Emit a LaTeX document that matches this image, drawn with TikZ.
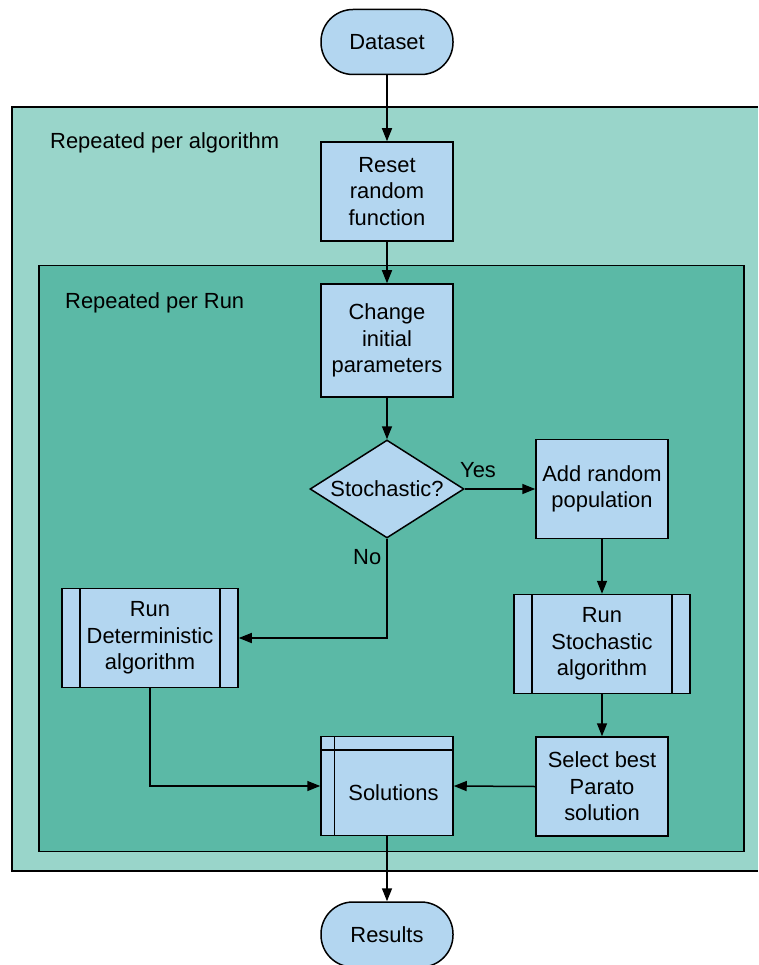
\documentclass[tikz,border=0pt]{standalone}
\usepackage{fontspec}
\setmainfont{Liberation Sans}
\usetikzlibrary{arrows.meta,shapes.geometric}
\definecolor{nodefill}{HTML}{B3D6F0}
\definecolor{outerfill}{HTML}{99D5CA}
\definecolor{innerfill}{HTML}{5BB9A6}

\begin{document}
\begin{tikzpicture}[x=1pt,y=-1pt,
  every node/.style={font=\fontsize{21.9}{26.5}\selectfont},
  box/.style={draw=black, line width=1.5pt, fill=nodefill, minimum width=132pt,
    minimum height=99pt, align=center, inner sep=0pt},
  term/.style={box, minimum height=65pt, rounded corners=32pt},
  decision/.style={draw=black, line width=1.5pt, fill=nodefill, diamond, aspect=1.57,
    minimum width=154pt, minimum height=98pt, inner sep=0pt},
  predef/.style={box, minimum width=176pt,
    path picture={\draw[line width=1.5pt]
      ([xshift=18pt]path picture bounding box.north west) -- ([xshift=18pt]path picture bounding box.south west)
      ([xshift=-18pt]path picture bounding box.north east) -- ([xshift=-18pt]path picture bounding box.south east);}},
  storage/.style={box,
    path picture={\draw[line width=1.5pt]
      ([yshift=-13.5pt]path picture bounding box.north west) -- ([yshift=-13.5pt]path picture bounding box.north east)
      ([xshift=13.5pt]path picture bounding box.north west) -- ([xshift=13.5pt]path picture bounding box.south west);}},
  tag/.style={anchor=base west, inner sep=0pt},
  arr/.style={line width=1.5pt, -{Triangle[length=13pt,width=10pt]}}
]
\useasboundingbox (0,0) rectangle (758,965);

% loop frames (the outer one runs off the right edge)
\fill[outerfill] (12,107) rectangle (758,871);
\draw[line width=1.5pt] (758,107) -- (12,107) -- (12,871) -- (758,871);
\draw[line width=1.5pt, fill=innerfill] (39,265.5) rectangle (744,851.5);
\node[tag] (lblalg) at (50,149) {Repeated per algorithm};
\node[tag] (lblrun) at (65,308) {Repeated per Run};

% flow nodes
\node[term] (dataset) at (387,42) {Dataset};
\node[box] (reset) at (387,191.5) {Reset\\random\\function};
\node[box, minimum height=113pt] (change) at (387,340.5) {Change\\initial\\parameters};
\node[decision] (stoch) at (387,489) {Stochastic?};
\node[box] (addpop) at (602,489) {Add random\\population};
\node[predef] (runsto) at (602,644) {Run\\Stochastic\\algorithm};
\node[predef] (rundet) at (150,638) {Run\\Deterministic\\algorithm};
\node[storage, label={[xshift=6.5pt,yshift=-6.5pt]center:Solutions}] (sol) at (387,786) {};
\node[box] (select) at (602,786.5) {Select best\\Parato\\solution};
\node[term] (results) at (387,934.5) {Results};

% branch labels
\node[tag] (yes) at (460,477) {Yes};
\node[tag] (no) at (353,564) {No};

% connectors
\draw[arr] (dataset) -- (reset);
\draw[arr] (reset) -- (change);
\draw[arr] (change) -- (stoch);
\draw[arr] (stoch.east) -- (addpop.west);
\draw[arr] (addpop) -- (runsto);
\draw[arr] (runsto) -- (select);
\draw[arr] (select.west) -- (sol.east);
\draw[arr] (stoch.south) |- (rundet.east);
\draw[arr] (rundet.south) |- (sol.west);
\draw[arr] (sol) -- (results);
\end{tikzpicture}
\end{document}
